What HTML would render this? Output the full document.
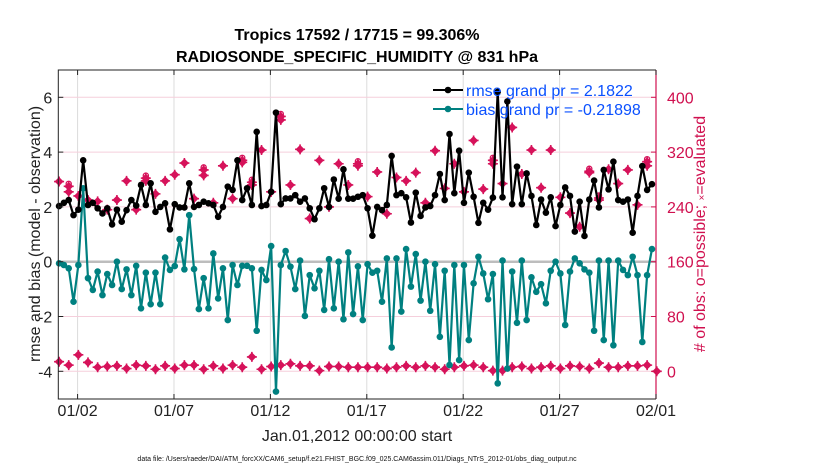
<!DOCTYPE html>
<html><head><meta charset="utf-8">
<style>
html,body{margin:0;padding:0;background:#fff;}
svg text{font-family:"Liberation Sans",Arial,sans-serif;}
</style></head>
<body>
<svg id="chart" width="830" height="470" viewBox="0 0 830 470" xmlns="http://www.w3.org/2000/svg">
<rect x="0" y="0" width="830" height="470" fill="#fff"/>
<g id="grid"></g>
<g id="marks"></g>
<g id="axes"></g>
<text x="357" y="40" text-anchor="middle" font-size="16" font-weight="bold">Tropics 17592 / 17715 = 99.306%</text>
<text x="357" y="62" text-anchor="middle" font-size="16" font-weight="bold">RADIOSONDE_SPECIFIC_HUMIDITY @ 831 hPa</text>
<text transform="translate(40,234) rotate(-90)" text-anchor="middle" font-size="16" fill="#222">rmse and bias (model - observation)</text>
<text transform="translate(705,234) rotate(-90)" text-anchor="middle" font-size="16" fill="#d0104f"># of obs: o=possible; <tspan font-size="10">×</tspan>=evaluated</text>
<text x="357" y="441" text-anchor="middle" font-size="16" fill="#222">Jan.01,2012 00:00:00 start</text>
<text x="357" y="461" text-anchor="middle" font-size="7" fill="#111">data file: /Users/raeder/DAI/ATM_forcXX/CAM6_setup/f.e21.FHIST_BGC.f09_025.CAM6assim.011/Diags_NTrS_2012-01/obs_diag_output.nc</text>
<g id="legend">
  <g>
    <line x1="433" y1="90" x2="463" y2="90" stroke="#000" stroke-width="2"/>
    <circle cx="448" cy="90" r="3.3" fill="#000"/>
    <text x="466" y="96" font-size="16" fill="#0a50ff">rmse grand pr = 2.1822</text>
  </g>
  <g>
    <line x1="433" y1="109" x2="463" y2="109" stroke="#008080" stroke-width="2"/>
    <circle cx="448" cy="109" r="3.3" fill="#008080"/>
    <text x="466" y="115" font-size="16" fill="#0a50ff">bias grand pr = -0.21898</text>
  </g>
</g>
</svg>
<script>
const rmse=[2.03,2.15,2.25,1.7,1.9,3.7,2.07,2.15,1.95,1.76,1.95,1.36,1.9,1.46,1.88,2.25,2.05,2.8,2.07,2.86,1.82,2.0,2.13,1.18,2.1,1.98,1.98,2.86,2.0,2.07,2.19,2.13,
2.07,1.64,2.0,2.74,2.62,3.7,2.25,2.68,2.07,4.74,2.03,2.07,2.55,5.44,2.1,2.31,2.31,2.43,2.19,2.31,1.95,1.55,1.95,2.68,2.0,3.0,2.3,3.37,2.3,2.3,2.37,
2.43,1.95,0.95,2.0,1.88,2.07,3.86,2.43,2.5,2.35,1.43,2.52,1.67,1.98,2.03,2.43,3.2,2.25,4.66,2.5,4.05,2.15,3.25,2.37,1.42,2.15,1.9,2.34,6.2,2.35,5.85,2.1,
3.47,2.1,3.22,2.4,1.34,2.27,1.79,2.35,1.3,2.07,2.71,2.4,1.1,2.19,0.94,2.27,2.96,1.98,3.35,2.64,3.65,2.25,2.19,2.27,1.06,2.4,3.49,2.62,2.83];
const bias=[-0.06,-0.12,-0.24,-1.46,-0.12,2.68,-0.6,-1.03,-0.36,-1.22,-0.45,-0.85,0,-1.0,-0.28,-1.22,-0.15,-1.7,-0.4,-1.55,-0.4,-1.55,0.15,-0.3,-0.16,0.82,-0.28,1.7,-0.27,-1.73,-0.6,-1.7,
0.3,-1.34,-0.24,-2.13,-0.12,-0.85,-0.15,-0.15,-0.24,-2.52,-0.3,-0.67,0.57,-4.74,-0.12,0.39,-0.18,-1.0,0.04,-1.98,-0.49,-0.97,-0.33,-1.76,0.09,-1.7,0,-2.1,0.34,-1.91,-0.17,
-2.13,-0.09,-0.4,-0.33,-1.46,0.12,-3.13,0.12,-1.82,0.46,-0.91,0.28,-1.42,0,-1.79,-0.09,-2.74,-0.33,-3.77,-0.12,-3.59,-0.12,-2.86,-0.79,0.18,-0.43,-1.37,-0.45,-4.44,0.04,-3.9,
-0.36,-2.23,0.04,-2.13,-0.57,-1.1,-0.82,-1.52,-0.33,0,-0.43,-2.31,-0.36,0.12,-0.06,-0.28,-0.4,-2.52,0.04,-2.86,0.04,-3.05,0.04,-0.3,-0.49,0.18,-0.49,-2.93,-0.49,0.46];
const obsPossible=[277,270,256,250,248,236,250,278,236,282,259,278,287,304,252,294,246,300,252,308,276,323,262,372,272,324,223,308,240,303,272,303,255,291,230,283,278,290,246,322,267,303,262,337,266,308,274,356,288,323,268,323,254,231,211,292,253,295,274,294,243,306];
const obsEvaluated=[277,262,256,250,248,236,250,278,236,278,259,278,287,304,252,286,246,300,252,305,272,323,262,367,272,324,223,308,240,303,272,300,255,291,230,283,278,290,246,322,267,303,262,337,266,303,274,356,288,323,268,323,254,231,211,290,250,295,274,294,243,300];
const obsLowPossible=[14,9,24,13,6,7,8,4,9,8,3,8,4,9,9,3,8,4,9,6,21,3,7,9,11,8,8,1,7,7,6,6,6,6,4,6,8,6,8,6,3,6,8,9,6,1,1,6,7,4,6,8,4,8,7,4,12,6,6,8,8,9,0];
const xTickLabels=["01/02","01/07","01/12","01/17","01/22","01/27","02/01"];
const xTickDays=[1,6,11,16,21,26,31];
const yTicks=[-4,-2,0,2,4,6];
const rTicks=[0,80,160,240,320,400];

const NS="http://www.w3.org/2000/svg";
const L=58.3,R=656,T=70,B=399;
const xs=d=>L+(d-0)/(31-0)*(R-L);
const ys=v=>261.7-v*27.4;
const yr=c=>ys(c/40-4);
function mk(tag,attrs,parent){const e=document.createElementNS(NS,tag);for(const k in attrs)e.setAttribute(k,attrs[k]);parent.appendChild(e);return e;}
const grid=document.getElementById('grid'),marks=document.getElementById('marks'),axes=document.getElementById('axes');
// gridlines
xTickDays.forEach((d,i)=>{const g=mk('line',{x1:xs(d),x2:xs(d),y1:T,y2:B,stroke:'#dcdcdc','stroke-width':1},grid);

});
yTicks.forEach(v=>{if(v===0)return;const g=mk('line',{x1:L,x2:R,y1:ys(v),y2:ys(v),stroke:'#f5cfdc','stroke-width':1},grid);

});
const z=mk('line',{x1:L,x2:R,y1:ys(0),y2:ys(0),stroke:'#bdbdbd','stroke-width':2.5},grid);


// obs markers
function obsMark(x,y,name,ring){const g=mk('g',{},marks);


mk('path',{d:`M${x-4.5},${y}L${x},${y-4.5}L${x+4.5},${y}L${x},${y+4.5}Z`,fill:'#d6125a'},g);
mk('path',{d:`M${x-5},${y}H${x+5}M${x},${y-5}V${y+5}`,stroke:'#d6125a','stroke-width':1.6},g);
if(ring)mk('circle',{cx:x,cy:y-2.5,r:2.6,fill:'none',stroke:'#d6125a','stroke-width':1.3},g);}
obsPossible.forEach((c,j)=>{const x=xs(0.04+j*0.5);if(Math.abs(c-obsEvaluated[j])>1)obsMark(x,yr(c),'obs-possible-marker',true);obsMark(x,yr(obsEvaluated[j]),'obs-evaluated-marker',false);});
obsLowPossible.forEach((c,j)=>{obsMark(xs(0.04+j*0.5),yr(c),'obs-low-marker',false);});
// series
function series(arr,color,name){const pts=arr.map((v,k)=>[xs(0.04+k*0.25),ys(v)]);
const p=mk('polyline',{points:pts.map(p=>p.join(',')).join(' '),fill:'none',stroke:color,'stroke-width':2.2,'stroke-linejoin':'round'},marks);


pts.forEach(q=>{const c=mk('circle',{cx:q[0],cy:q[1],r:3.3,fill:color},marks);

});}
series(bias,'#008080','bias');
series(rmse,'#000000','rmse');
// axes box
const ab=mk('path',{d:`M${R},${T}H${L}V${B}H${R}`,fill:'none',stroke:'#222','stroke-width':1},axes);


const ra=mk('line',{x1:R,x2:R,y1:T,y2:B,stroke:'#d0104f','stroke-width':1.2},axes);


xTickDays.forEach((d,i)=>{mk('line',{x1:xs(d),x2:xs(d),y1:B,y2:B-5,stroke:'#222'},axes);mk('line',{x1:xs(d),x2:xs(d),y1:T,y2:T+5,stroke:'#222'},axes);
const t=mk('text',{x:xs(d),y:B+17,'text-anchor':'middle','font-size':16,fill:'#222'},axes);t.textContent=xTickLabels[i];

});
yTicks.forEach(v=>{mk('line',{x1:L,x2:L+5,y1:ys(v),y2:ys(v),stroke:'#222'},axes);
const t=mk('text',{x:L-6,y:ys(v)+6,'text-anchor':'end','font-size':16,fill:'#222'},axes);t.textContent=v;

});
rTicks.forEach(c=>{mk('line',{x1:R-5,x2:R,y1:yr(c),y2:yr(c),stroke:'#d0104f'},axes);
const t=mk('text',{x:R+11,y:yr(c)+6,'text-anchor':'start','font-size':16,fill:'#d0104f'},axes);t.textContent=c;

});
</script>
</body></html>
